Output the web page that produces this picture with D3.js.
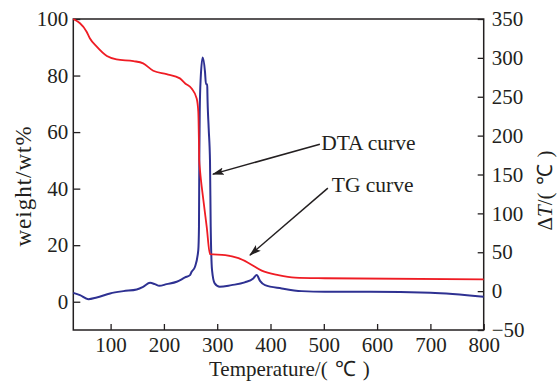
<!DOCTYPE html>
<html>
<head>
<meta charset="utf-8">
<script src="https://cdn.jsdelivr.net/npm/d3@7/dist/d3.min.js"></script>
<style>
  body { margin: 0; background: #fff; }
  text { font-family: "Liberation Serif", "Times New Roman", serif; fill: #231f20; }
</style>
</head>
<body>
<div id="chart"></div>
<script>
// TG curve (weight %, left axis)
var tgTemp   = [30, 55, 61, 74, 93, 111, 143, 161, 180, 205, 230, 240, 252, 261.5, 264.5, 265.8, 266.2, 267.7, 274, 280.3, 286.5, 315, 340, 358, 383.5, 414.6, 446, 502, 800];
var tgWeight = [100, 95.5, 93.2, 90.2, 86.9, 85.7, 85.1, 84.3, 81.7, 80.5, 79.0, 77.2, 75.4, 71.9, 67.2, 55.4, 50.1, 46.6, 36.0, 26.5, 16.8, 16.5, 15.4, 13.8, 11.0, 9.4, 8.5, 8.3, 7.9];

// DTA curve (deltaT, right axis)
var dtaTemp  = [30, 42.5, 58, 74, 99, 124, 149, 161, 174, 183, 191.4, 205, 224, 239.6, 249, 252, 258.3, 264.5, 265.8, 266.4, 267.2, 269, 272.8, 277.1, 278.9, 281.3, 281.6, 284, 286.5, 287.8, 290.3, 295.3, 304.7, 326.7, 351.6, 367.7, 374.1, 380.3, 389.7, 421, 458.5, 502, 587, 700, 800];
var dtaValue = [-2.2, -5.1, -10.3, -8.1, -3.0, 0, 2.2, 5.5, 10.7, 9.0, 6.8, 9.0, 12.0, 17.6, 20.6, 24.8, 31.3, 52.7, 82.7, 168, 230.6, 273.6, 300.6, 282.1, 266.2, 266.2, 254.7, 209.6, 166.3, 82.7, 27.0, 9.9, 5.5, 7.7, 11.2, 16.3, 20.6, 13.2, 7.7, 3.5, 0, -0.9, -0.9, -2.2, -7.3];

var xTicks = [100, 200, 300, 400, 500, 600, 700, 800];
var weightTicks = [0, 20, 40, 60, 80, 100];
var dtaTicks = [-50, 0, 50, 100, 150, 200, 250, 300, 350];

var width = 557, height = 382;
var plotLeft = 73.3, plotRight = 483.7, plotTop = 19, plotBottom = 330;

var svg = d3.select("#chart").append("svg")
    .attr("width", width)
    .attr("height", height);

var x = d3.scaleLinear().domain([30, 800]).range([plotLeft, plotRight]);
var yW = d3.scaleLinear().domain([-10, 100]).range([plotBottom, plotTop]);
var yD = d3.scaleLinear().domain([-50, 350]).range([plotBottom, plotTop]);

var xAxis = d3.axisBottom(x).tickValues(xTicks).tickSizeInner(-6).tickSizeOuter(0).tickPadding(7);
var yAxisL = d3.axisLeft(yW).tickValues(weightTicks).tickSizeInner(-7).tickSizeOuter(0).tickPadding(5);
var yAxisR = d3.axisRight(yD).tickValues(dtaTicks).tickSizeInner(-6).tickSizeOuter(0).tickPadding(8);

function styleAxis(g) {
    g.select(".domain").remove();
    g.selectAll("line").attr("stroke", "#231f20").attr("stroke-width", 1.3);
    g.selectAll("text").attr("font-size", 21).attr("fill", "#231f20")
        .style("font-family", '"Liberation Serif", serif');
}

svg.append("g").attr("transform", "translate(0," + plotBottom + ")").call(xAxis).call(styleAxis);
svg.append("g").attr("transform", "translate(" + plotLeft + ",0)").call(yAxisL).call(styleAxis);
svg.append("g").attr("transform", "translate(" + plotRight + ",0)").call(yAxisR).call(styleAxis);

svg.append("rect")
    .attr("x", plotLeft).attr("y", plotTop)
    .attr("width", plotRight - plotLeft).attr("height", plotBottom - plotTop)
    .attr("fill", "none").attr("stroke", "#231f20").attr("stroke-width", 1.5);

var tgLine = d3.line()
    .x(function (d, i) { return x(tgTemp[i]); })
    .y(function (d) { return yW(d); })
    .curve(d3.curveMonotoneX);

var dtaLine = d3.line()
    .x(function (d, i) { return x(dtaTemp[i]); })
    .y(function (d) { return yD(d); })
    .curve(d3.curveMonotoneX);

svg.append("path").datum(dtaValue)
    .attr("d", dtaLine)
    .attr("fill", "none").attr("stroke", "#2e3192").attr("stroke-width", 2);

svg.append("path").datum(tgWeight)
    .attr("d", tgLine)
    .attr("fill", "none").attr("stroke", "#ef1c24").attr("stroke-width", 1.8);

// arrows
svg.append("defs").append("marker")
    .attr("id", "arrow")
    .attr("viewBox", "0 0 12 10")
    .attr("refX", 11).attr("refY", 5)
    .attr("markerWidth", 12).attr("markerHeight", 10)
    .attr("markerUnits", "userSpaceOnUse")
    .attr("orient", "auto")
    .append("path").attr("d", "M0,1.2 L12,5 L0,8.8 L2.5,5 Z").attr("fill", "#231f20");

svg.append("line")
    .attr("x1", x(492.6)).attr("y1", yD(189))
    .attr("x2", x(292)).attr("y2", yD(150.5))
    .attr("stroke", "#231f20").attr("stroke-width", 1.5)
    .attr("marker-end", "url(#arrow)");

svg.append("line")
    .attr("x1", x(507.6)).attr("y1", yW(40.2))
    .attr("x2", x(361.5)).attr("y2", yW(16.5))
    .attr("stroke", "#231f20").attr("stroke-width", 1.5)
    .attr("marker-end", "url(#arrow)");

svg.append("text")
    .attr("x", x(495)).attr("y", yD(181))
    .attr("font-size", 21.5)
    .text("DTA curve");

svg.append("text")
    .attr("x", x(515)).attr("y", yW(38.7))
    .attr("font-size", 21.5)
    .text("TG curve");

// axis titles
var bt = svg.append("text")
    .attr("x", 209).attr("y", 376)
    .attr("font-size", 21);
bt.append("tspan").text("Temperature/");
bt.append("tspan").attr("letter-spacing", 7).text("(℃)");

svg.append("text")
    .attr("transform", "translate(31,186) rotate(-90)")
    .attr("text-anchor", "middle")
    .attr("font-size", 23)
    .attr("letter-spacing", 1)
    .text("weight/wt%");

var rt = svg.append("text")
    .attr("transform", "translate(552,187) rotate(-90)")
    .attr("text-anchor", "middle")
    .attr("font-size", 21);
rt.append("tspan").text("Δ");
rt.append("tspan").attr("font-style", "italic").text("T");
rt.append("tspan").text("/");
rt.append("tspan").attr("letter-spacing", 7).text("(℃)");
</script>
</body>
</html>
